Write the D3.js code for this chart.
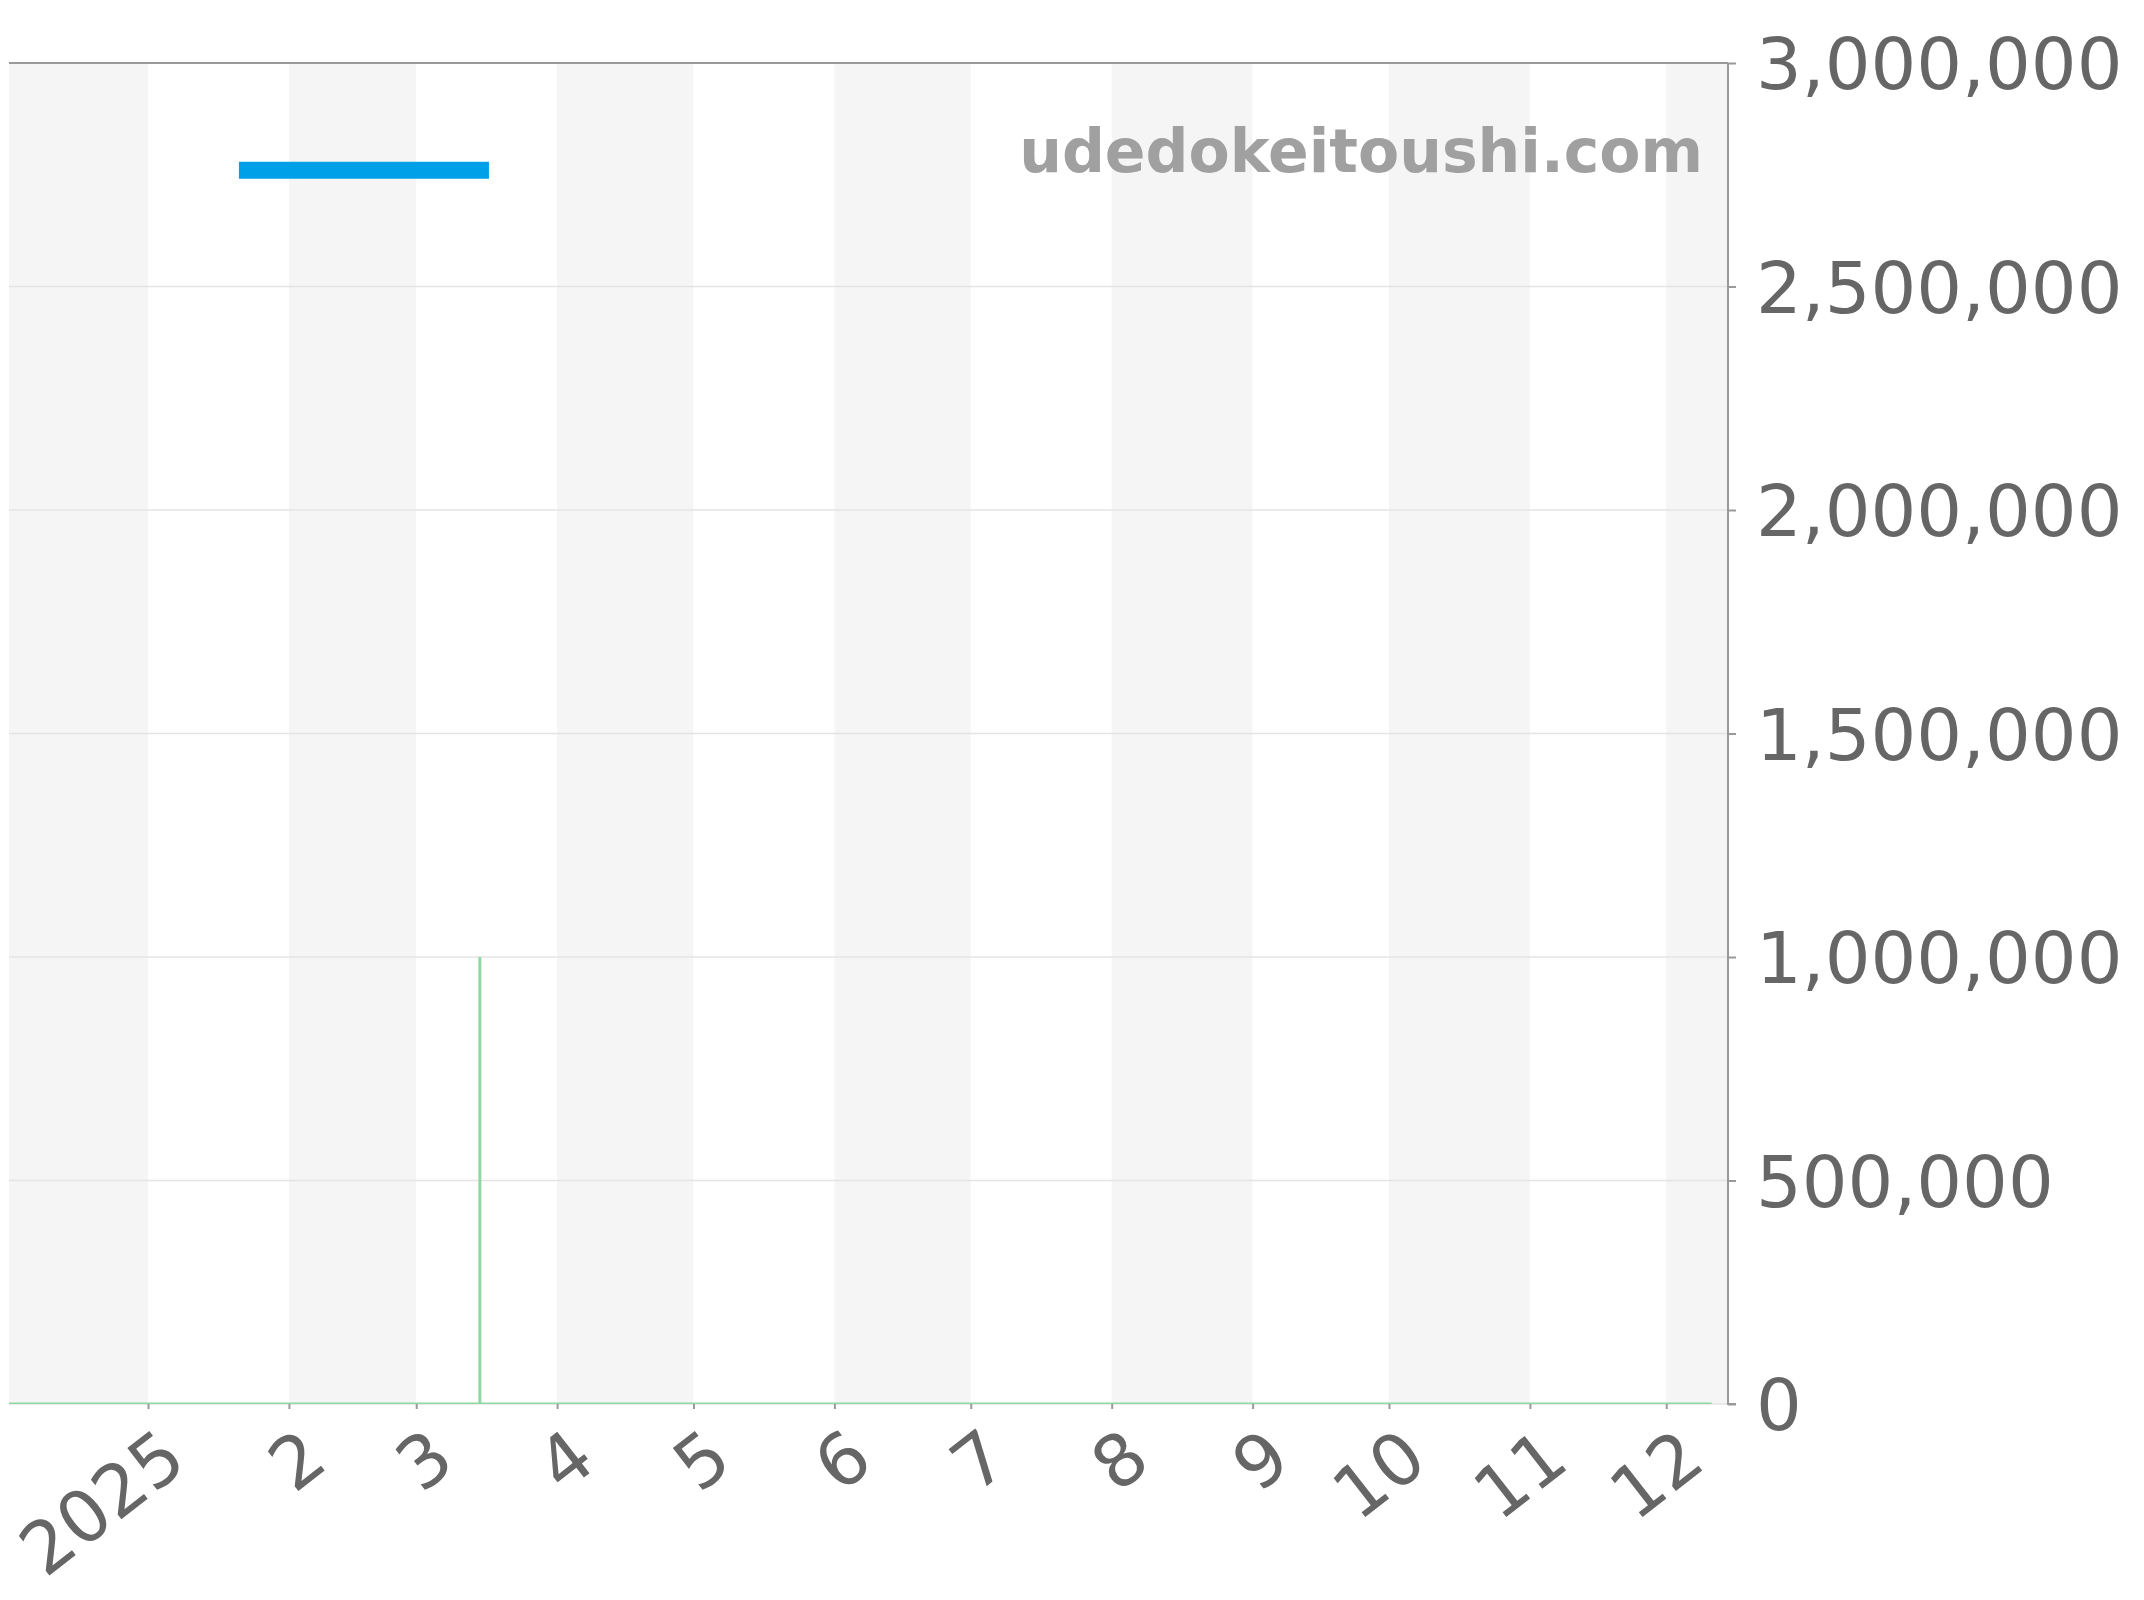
<!DOCTYPE html>
<html>
<head>
<meta charset="utf-8">
<script src="https://cdn.jsdelivr.net/npm/d3@7"></script>
<style>
  body { margin: 0; background: #fff; }
  text { font-family: "DejaVu Sans", sans-serif; }
  .axis text { fill: #666; font-size: 72px; }
  .axis line { stroke: #999; stroke-width: 2; }
  .axis .domain { stroke: #999; stroke-width: 2; }
</style>
</head>
<body>
<script>
/* visible time window of the chart */
var xDomain = ["2024-12-01T10:00", "2025-12-14T14:00"]
var yDomain = [0, 3000000]
var yTicks = [0, 500000, 1000000, 1500000, 2000000, 2500000, 3000000]

/* price series (blue) */
var priceDates = ["2025-01-21", "2025-03-17"]
var priceValues = [2760000, 2760000]

/* volume series (green) */
var volumeDates = ["2024-12-01T10:00", "2025-03-15", "2025-03-15", "2025-03-15", "2025-12-11"]
var volumeValues = [0, 0, 1000000, 0, 0]

var watermark = "udedokeitoushi.com"

var W = 2144, H = 1600
var plot = {left: 9, right: 1728, top: 63, bottom: 1404}

var parse = function(s) { return new Date(s) }

var x = d3.scaleTime()
  .domain(xDomain.map(parse))
  .range([plot.left, plot.right])

var y = d3.scaleLinear()
  .domain(yDomain)
  .range([plot.bottom, plot.top])

var svg = d3.select("body")
  .append("svg")
  .attr("width", W)
  .attr("height", H)

svg.append("defs")
  .append("clipPath")
  .attr("id", "plotClip")
  .append("rect")
  .attr("x", plot.left)
  .attr("y", plot.top)
  .attr("width", plot.right - plot.left)
  .attr("height", plot.bottom - plot.top)

/* alternating month bands */
var d0 = x.domain()[0], d1 = x.domain()[1]
var monthStarts = [d3.timeMonth.floor(d0)].concat(d3.timeMonth.range(d3.timeMonth.ceil(d0), d1))
svg.append("g")
  .selectAll("rect")
  .data(monthStarts)
  .enter()
  .append("rect")
  .attr("x", function(d) { return x(d < d0 ? d0 : d) })
  .attr("y", plot.top)
  .attr("width", function(d) {
    var e = d3.timeMonth.offset(d, 1)
    if (e > d1) e = d1
    return x(e) - x(d < d0 ? d0 : d)
  })
  .attr("height", plot.bottom - plot.top)
  .attr("fill", function(d, i) { return i % 2 == 0 ? "#f5f5f5" : "#ffffff" })

/* horizontal grid lines */
svg.append("g")
  .selectAll("line")
  .data(yTicks)
  .enter()
  .append("line")
  .attr("x1", plot.left)
  .attr("x2", plot.right)
  .attr("y1", function(d) { return y(d) })
  .attr("y2", function(d) { return y(d) })
  .attr("stroke", function(d) { return d == yDomain[1] ? "#999" : "#e4e4e4" })
  .attr("stroke-width", function(d) { return d == yDomain[1] ? 2 : 1.5 })

/* watermark */
svg.append("text")
  .attr("x", 1703)
  .attr("y", 172)
  .attr("text-anchor", "end")
  .attr("font-weight", "bold")
  .attr("font-size", 60)
  .attr("fill", "#a0a0a0")
  .text(watermark)

/* volume line (green) */
var volume = volumeDates.map(function(d, i) { return {date: parse(d), value: volumeValues[i]} })
svg.append("path")
  .datum(volume)
  .attr("clip-path", "url(#plotClip)")
  .attr("fill", "none")
  .attr("stroke", "#8fd8a0")
  .attr("stroke-width", 3)
  .attr("d", d3.line()
    .x(function(d) { return x(d.date) })
    .y(function(d) { return y(d.value) }))

/* price line (blue) */
var price = priceDates.map(function(d, i) { return {date: parse(d), value: priceValues[i]} })
svg.append("path")
  .datum(price)
  .attr("fill", "none")
  .attr("stroke", "#00a0e9")
  .attr("stroke-width", 17)
  .attr("d", d3.line()
    .x(function(d) { return x(d.date) })
    .y(function(d) { return y(d.value) }))

/* right y axis */
var yAxis = d3.axisRight(y)
  .tickValues(yTicks)
  .tickSize(8)
  .tickPadding(20)
  .tickFormat(d3.format(","))

svg.append("g")
  .attr("class", "axis")
  .attr("transform", "translate(" + plot.right + ",0)")
  .call(yAxis)
  .call(function(g) { g.select(".domain").attr("d", "M0," + plot.top + "V" + plot.bottom + "H8") })
  .selectAll("text")
  .attr("dy", "0.36em")

/* bottom x axis, ticks at month starts */
var xAxis = d3.axisBottom(x)
  .tickValues(d3.timeMonth.range(d3.timeMonth.ceil(d0), d1))
  .tickSize(5)
  .tickFormat(function(d) { return d.getMonth() == 0 ? String(d.getFullYear()) : String(d.getMonth() + 1) })

var gx = svg.append("g")
  .attr("class", "axis")
  .attr("transform", "translate(0," + plot.bottom + ")")
  .call(xAxis)

gx.select(".domain").remove()

gx.selectAll("text")
  .attr("text-anchor", "end")
  .attr("y", 0)
  .attr("dy", 0)
  .attr("transform", "translate(41,62) rotate(-38)")
</script>
</body>
</html>
